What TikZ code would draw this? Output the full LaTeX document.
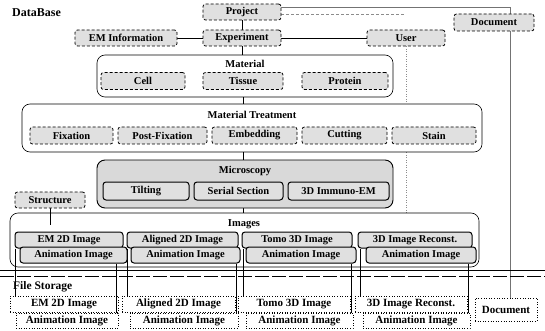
\documentclass[tikz,border=0pt]{standalone}
\usepackage{fontspec}
\setmainfont{Liberation Serif}
\usetikzlibrary{backgrounds}
\tikzset{
  boxfont/.style={font=\fontsize{10.5}{12}\selectfont\bfseries},
  dbbox/.style={draw=black, densely dashed, line width=0.8pt, rounded corners=2.5pt, fill=black!12, inner sep=0pt, minimum height=16pt, boxfont},
  imgbox/.style={draw=black, line width=1pt, rounded corners=3pt, fill=black!12, inner sep=0pt, minimum height=16pt, boxfont},
  groupbox/.style={draw=black, line width=0.6pt, rounded corners=8pt, inner sep=0pt},
  shadedgroup/.style={groupbox, fill=black!15, line width=0.9pt},
  grouptitle/.style={inner sep=0pt, boxfont},
  fsbox/.style={draw=black, dotted, line width=0.6pt, inner sep=0pt, minimum height=16pt, font=\fontsize{11}{13}\selectfont\bfseries},
  conn/.style={draw=black, line width=0.6pt},
  faintconn/.style={draw=black!45, line width=0.5pt, densely dashed},
  greyconn/.style={draw=black!55, line width=0.6pt},
}
\begin{document}
\begin{tikzpicture}[x=1pt,y=-1pt]
\useasboundingbox (0,0) rectangle (545,331);

% ---- DataBase part
\node[anchor=west, inner sep=0pt, font=\fontsize{12}{14}\selectfont\bfseries] (dblabel) at (12,13) {DataBase};

\node[dbbox, minimum width=78pt] (project) at (242,12) {Project};
\node[dbbox, minimum width=102pt] (eminfo) at (126,38) {EM Information};
\node[dbbox, minimum width=78pt] (experiment) at (242,38) {Experiment};
\node[dbbox, minimum width=78pt] (user) at (406,38) {User};
\node[dbbox, minimum width=80pt, minimum height=17pt] (doc) at (494,22.5) {Document};

% Material
\node[groupbox, minimum width=296pt, minimum height=42pt] (material) at (245,76) {};
\node[grouptitle] (materialt) at (245,64) {Material};
\node[dbbox, minimum width=84pt, minimum height=17pt] (cell) at (143,81) {Cell};
\node[dbbox, minimum width=80pt, minimum height=17pt] (tissue) at (243,81) {Tissue};
\node[dbbox, minimum width=86pt, minimum height=17pt] (protein) at (345,81) {Protein};

% Material Treatment
\node[groupbox, minimum width=460pt, minimum height=48pt] (mt) at (252,128) {};
\node[grouptitle] (mtt) at (252,115) {Material Treatment};
\node[dbbox, minimum width=83pt, minimum height=17pt] (fix) at (71.5,135.5) {Fixation};
\node[dbbox, minimum width=89pt, minimum height=17pt] (postfix) at (162.5,135.5) {Post-Fixation};
\node[dbbox, minimum width=85pt, minimum height=17pt] (embed) at (254.5,135.5) {Embedding};
\node[dbbox, minimum width=85pt, minimum height=17pt] (cut) at (344.5,135.5) {Cutting};
\node[dbbox, minimum width=84pt, minimum height=17pt] (stain) at (434,135.5) {Stain};

% Microscopy
\node[shadedgroup, minimum width=296pt, minimum height=48pt] (micro) at (245,184) {};
\node[grouptitle] (microt) at (245,171) {Microscopy};
\node[imgbox, minimum width=86pt, minimum height=18pt] (tilt) at (146,191) {Tilting};
\node[imgbox, minimum width=89pt, minimum height=18pt] (serial) at (238.5,191) {Serial Section};
\node[imgbox, minimum width=101pt, minimum height=18pt] (immuno) at (338.5,191) {3D Immuno-EM};

\node[dbbox, minimum width=70pt] (structure) at (50,200) {Structure};

% Images
\node[groupbox, minimum width=469pt, minimum height=54pt] (images) at (244.5,240) {};
\node[grouptitle] (imagest) at (244,224) {Images};
\coordinate (structend) at (50,225);

\node[imgbox, minimum width=108pt] (ta) at (69,240) {EM 2D Image};
\node[imgbox, minimum width=111pt] (tb) at (182.5,240) {Aligned 2D Image};
\node[imgbox, minimum width=110pt] (tc) at (297,240) {Tomo 3D Image};
\node[imgbox, minimum width=114pt] (td) at (415,240) {3D Image Reconst.};
\node[imgbox, minimum width=107pt] (aa) at (73.5,255) {Animation Image};
\node[imgbox, minimum width=109pt] (ab) at (185.5,255) {Animation Image};
\node[imgbox, minimum width=110pt] (ac) at (301,255) {Animation Image};
\node[imgbox, minimum width=110pt] (ad) at (421,255) {Animation Image};

% separator
\draw[line width=0.8pt] (0,270) -- (545,270);
\draw[line width=0.5pt, dash pattern=on 14pt off 3pt] (0,276) -- (545,276);

% ---- File Storage part
\node[anchor=west, inner sep=0pt, font=\fontsize{11.5}{13}\selectfont\bfseries] (fslabel) at (13,287) {File Storage};
\node[fsbox, minimum width=108pt] (fa) at (64,304) {EM 2D Image};
\node[fsbox, minimum width=113pt] (fb) at (178.5,304) {Aligned 2D Image};
\node[fsbox, minimum width=112pt] (fc) at (294,304) {Tomo 3D Image};
\node[fsbox, minimum width=112pt] (fd) at (411,304) {3D Image Reconst.};
\node[fsbox, minimum width=102pt, minimum height=15pt] (ga) at (67,320.5) {Animation Image};
\node[fsbox, minimum width=108pt, minimum height=15pt] (gb) at (184,320.5) {Animation Image};
\node[fsbox, minimum width=107pt, minimum height=15pt] (gc) at (299.5,320.5) {Animation Image};
\node[fsbox, minimum width=107pt, minimum height=15pt] (gd) at (416.5,320.5) {Animation Image};
\node[fsbox, minimum width=62pt, minimum height=23pt] (doc2) at (506,309.5) {Document};

\begin{scope}[on background layer]
  \fill[white] (0,0) rectangle (545,331);
  % database links
  \draw[conn] (project.south) -- (experiment.north);
  \draw[conn] (eminfo.east) -- (experiment.west);
  \draw[conn] (experiment.east) -- (user.west);
  \draw[conn] (experiment.south) -- (experiment.south |- material.north);
  \draw[conn] (tissue.south |- material.south) -- (tissue.south |- mt.north);
  \draw[conn] (tissue.south |- mt.south) -- (tissue.south |- micro.north);
  \draw[conn] (tissue.south |- micro.south) -- (tissue.south |- images.north);
  \draw[conn] (structure.south) -- (structend);
  \draw[greyconn] ([yshift=5pt]project.east) -| ([xshift=16pt]doc.north);
  \draw[greyconn] ([xshift=16pt]doc.south) -- ([xshift=16pt]doc.south |- doc2.north);
  \draw[faintconn] ([yshift=-2pt]project.east) -- ([yshift=-2pt]project.east -| user.north);
  \draw[faintconn, dotted] (user.south) -- (user.south |- mt.north);
  \draw[faintconn, dotted] (user.south |- mt.south) -- (user.south |- images.north);
  % image store links
  \draw[conn] ([xshift=6pt]fa.north west |- ta.south) -- ([xshift=6pt]fa.north west);
  \draw[conn] ([xshift=6pt]fb.north west |- tb.south) -- ([xshift=6pt]fb.north west);
  \draw[conn] ([xshift=6pt]fc.north west |- tc.south) -- ([xshift=6pt]fc.north west);
  \draw[conn] ([xshift=6pt]fd.north west |- td.south) -- ([xshift=6pt]fd.north west);
  \draw[conn] ([xshift=-2pt]ga.north east |- aa.south) -- ([xshift=-2pt]ga.north east);
  \draw[conn] ([xshift=-2pt]gb.north east |- ab.south) -- ([xshift=-2pt]gb.north east);
  \draw[conn] ([xshift=-2pt]gc.north east |- ac.south) -- ([xshift=-2pt]gc.north east);
  \draw[conn] ([xshift=-2pt]gd.north east |- ad.south) -- ([xshift=-2pt]gd.north east);
\end{scope}
\end{tikzpicture}
\end{document}
